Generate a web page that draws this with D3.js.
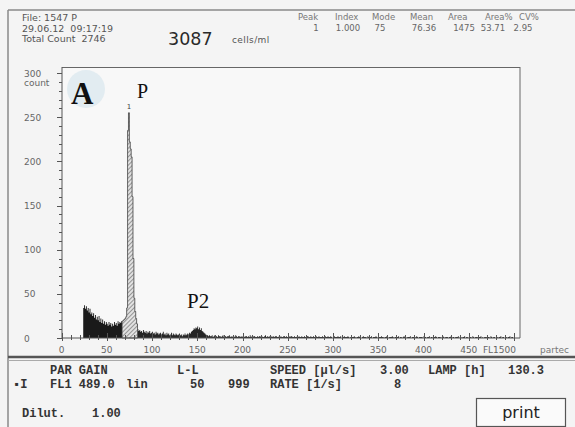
<!DOCTYPE html>
<html><head><meta charset="utf-8">
<script src="https://cdn.jsdelivr.net/npm/d3@7"></script>
<style>body{margin:0;background:#f4f4f4;} svg{display:block} text{white-space:pre}</style>
</head><body>
<svg id="c" width="575" height="427"></svg>
<script>
// ---------- DATA ----------
const startChannel = 24;
// channels 24-66 (debris, dark)
const lowCounts = [34,37,33,36,31,34,29,33,27,29,25,28,23,26,21,24,20,25,18,22,17,21,16,19,15,18,16,14,18,15,17,13,16,14,18,15,17,14,19,16,18,17,19];
// channels 67-83 (gated peak P, hatched)
const peakCounts = [19,20,21,22,24,34,235,255,222,214,205,160,90,45,30,22,16];
// channels 84-160 (incl. P2 bump)
const midCounts = [10,8,9,7,8,6,9,7,6,8,5,7,6,8,5,6,7,5,6,4,7,5,6,4,5,6,4,5,7,4,5,3,6,4,5,3,4,6,3,5,4,3,5,4,3,4,5,3,4,2,4,3,5,3,4,5,4,6,5,7,
  8,9,11,10,12,11,13,10,12,9,11,8,7,6,5,4,3];
// channels 161-499
const tailCounts = [
  3,2,3,2,2,3,1,2,3,2,2,1,3,2,2,1,2,3,1,2,2,1,2,2,3,1,2,1,2,2,1,3,2,1,2,2,1,2,1,2,
  2,1,2,2,1,2,1,3,1,2,1,2,2,1,1,2,1,2,2,1,2,1,1,2,3,1,2,1,2,1,1,2,1,2,1,2,2,1,1,2,
  1,2,1,1,2,2,1,2,1,1,2,1,2,2,1,1,2,1,1,2,1,2,1,1,2,1,1,2,1,1,2,2,1,1,2,1,1,2,1,1,
  2,1,1,2,1,1,1,2,1,0,2,1,1,2,1,1,2,1,0,1,2,1,1,1,2,1,1,2,0,1,1,2,1,1,1,2,1,0,1,2,
  1,1,2,1,0,1,1,2,1,1,0,1,2,1,1,1,0,2,1,1,1,2,0,1,1,1,2,1,0,1,1,1,2,1,1,0,1,1,2,1,
  0,1,1,1,2,1,0,1,1,1,1,2,0,1,1,0,1,2,1,1,0,1,1,1,2,0,1,1,1,0,1,2,1,0,1,1,1,1,0,2,
  1,1,0,1,1,2,0,1,1,0,1,1,2,1,0,1,1,1,0,1,2,1,0,1,1,1,0,1,1,2,0,1,1,0,1,1,1,2,0,1,
  1,0,1,1,2,0,1,1,0,1,1,1,0,2,1,0,1,1,1,0,1,1,2,0,1,0,1,1,1,0,1,1,0,2,1,0,1,1,0,1,
  1,0,1,1,2,0,1,1,0,1,1,0,1,1,2,0,1,1,0];
const yTicks = [0,50,100,150,200,250,300];
const xTicks = [0,50,100,150,200,250,300,350,400,450];
const peakHeader = ["Peak","Index","Mode","Mean","Area","Area%","CV%"];
const peakValues = ["1","1.000","75","76.36","1475","53.71","2.95"];
const fileInfo = ["File: 1547 P","29.06.12  09:17:19","Total Count  2746"];
const concentration = "3087";
const concUnit = "cells/ml";

// ---------- DRAW ----------
const svg = d3.select("#c");
svg.append("rect").attr("width",575).attr("height",427).attr("fill","#f4f4f4");

const x = d3.scaleLinear().domain([0,500]).range([61.5,514]);
const y = d3.scaleLinear().domain([0,300]).range([338,73]);

// frames
svg.append("line").attr("x1",8).attr("x2",575).attr("y1",10).attr("y2",10).attr("stroke","#8a8a8a").attr("stroke-width",1.5);
svg.append("line").attr("x1",8).attr("x2",8).attr("y1",10).attr("y2",427).attr("stroke","#8a8a8a").attr("stroke-width",1.5);
svg.append("line").attr("x1",8).attr("x2",575).attr("y1",357).attr("y2",357).attr("stroke","#555").attr("stroke-width",2.5);
svg.append("line").attr("x1",8).attr("x2",575).attr("y1",360.5).attr("y2",360.5).attr("stroke","#aaa").attr("stroke-width",1);

// plot area
svg.append("rect").attr("x",62).attr("y",67).attr("width",458).attr("height",271).attr("fill","#f8f8f8");
svg.append("circle").attr("cx",86).attr("cy",89).attr("r",19).attr("fill","#e2ecf1");
svg.append("line").attr("x1",62).attr("x2",520).attr("y1",67.5).attr("y2",67.5).attr("stroke","#666");
svg.append("line").attr("x1",520).attr("x2",520).attr("y1",67).attr("y2",338).attr("stroke","#666");

// header
const hdr = svg.append("g").attr("font-family","DejaVu Sans").attr("fill","#555");
fileInfo.forEach((t,i)=>hdr.append("text").attr("x",22).attr("y",21+i*10.5).attr("font-size",9.5).text(t));
svg.append("text").attr("x",168).attr("y",45).attr("font-family","DejaVu Sans").attr("font-size",17.5).attr("fill","#2a2a2a").text(concentration);
svg.append("text").attr("x",232).attr("y",43).attr("font-family","DejaVu Sans").attr("font-size",9).attr("fill","#555").attr("letter-spacing",0.4).text(concUnit);
const hx = [298,335,372,410,448,485,519];
const vx = [316,348,380,424,464,493,523];
peakHeader.forEach((t,i)=>hdr.append("text").attr("x",hx[i]).attr("y",20).attr("font-size",8.5).attr("fill","#777").text(t));
peakValues.forEach((t,i)=>hdr.append("text").attr("x",vx[i]).attr("y",31).attr("font-size",8.5).attr("text-anchor","middle").attr("fill","#666").text(t));

// hatch pattern
const defs = svg.append("defs");
const pat = defs.append("pattern").attr("id","hatch").attr("patternUnits","userSpaceOnUse").attr("width",3).attr("height",3).attr("patternTransform","rotate(45)");
pat.append("rect").attr("width",3).attr("height",3).attr("fill","#e2e2e2");
pat.append("line").attr("x1",0).attr("x2",0).attr("y1",0).attr("y2",3).attr("stroke","#555").attr("stroke-width",1.1);

// histogram data
function seg(arr, c0){ const pts = arr.map((v,i)=>({c:c0+i, v})); pts.push({c:c0+arr.length, v:arr[arr.length-1]}); return pts; }
const lowSeg = seg(lowCounts, startChannel);
const peakStart = startChannel + lowCounts.length;
const peakSeg = seg(peakCounts, peakStart);
const restStart = peakStart + peakCounts.length;
const restSeg = seg(midCounts.concat(tailCounts), restStart);

const area = d3.area().x(d=>x(d.c)).y0(y(0)).y1(d=>y(d.v)).curve(d3.curveStepAfter);
svg.append("path").datum(lowSeg).attr("d",area).attr("fill","#1a1a1a");
svg.append("path").datum(restSeg).attr("d",area).attr("fill","#262626");
svg.append("path").datum(peakSeg).attr("d",area).attr("fill","url(#hatch)").attr("stroke","#444").attr("stroke-width",0.8);

// peak marker
const modeIdx = peakCounts.indexOf(d3.max(peakCounts));
svg.append("text").attr("x",x(peakStart+modeIdx)+0.5).attr("y",y(d3.max(peakCounts))-4).attr("font-family","DejaVu Sans").attr("font-size",7).attr("fill","#444").attr("text-anchor","middle").text("1");

// axes
svg.append("line").attr("x1",62).attr("x2",62).attr("y1",67).attr("y2",338).attr("stroke","#555");
svg.append("line").attr("x1",62).attr("x2",520).attr("y1",338).attr("y2",338).attr("stroke","#555");
const yMinor = d3.range(0,301,10);
svg.append("g").selectAll("line").data(yMinor).join("line")
  .attr("x1",d=>d%50===0?57:59).attr("x2",62).attr("y1",d=>Math.round(y(d))+0.5).attr("y2",d=>Math.round(y(d))+0.5).attr("stroke","#555");
const xMinor = d3.range(0,501,10);
svg.append("g").selectAll("line").data(xMinor).join("line")
  .attr("x1",d=>Math.round(x(d))+0.5).attr("x2",d=>Math.round(x(d))+0.5).attr("y1",d=>d%50===0?333:335).attr("y2",d=>d%50===0?341:340).attr("stroke","#555");

const lab = svg.append("g").attr("font-family","DejaVu Sans").attr("font-size",9).attr("fill","#666");
yTicks.forEach(t=>lab.append("text").attr("x",24).attr("y",y(t)+3.5).text(t));
lab.append("text").attr("x",24).attr("y",86).text("count");
xTicks.forEach(t=>lab.append("text").attr("x",x(t)).attr("y",353).attr("text-anchor","middle").text(t));
lab.append("text").attr("x",x(500)+2).attr("y",353).attr("text-anchor","end").text("FL1500");
lab.append("text").attr("x",540).attr("y",353).attr("font-size",9).attr("fill","#777").text("partec");

// annotations
svg.append("text").attr("x",71).attr("y",104).attr("font-family","Liberation Serif").attr("font-weight","bold").attr("font-size",31).attr("fill","#111").text("A");
svg.append("text").attr("x",137).attr("y",98).attr("font-family","Liberation Serif").attr("font-size",20).attr("fill","#111").text("P");
svg.append("text").attr("x",187).attr("y",308).attr("font-family","Liberation Serif").attr("font-size",21).attr("fill","#111").text("P2");

// bottom panel
const rows = [
  [[50,374,"PAR GAIN"],[177,374,"L-L"],[270,374,"SPEED [µl/s]"],[380,374,"3.00"],[428,374,"LAMP [h]"],[508,374,"130.3"]],
  [[13,388,"\u25AAI"],[50,388,"FL1 489.0"],[126,388,"lin"],[190,388,"50"],[228,388,"999"],[270,388,"RATE"],[306,388,"[1/s]"],[394,388,"8"]],
  [[22,417,"Dilut."],[92,417,"1.00"]]
];
const bp = svg.append("g").attr("font-family","Liberation Mono").attr("font-weight","bold").attr("font-size",12).attr("fill","#333");
rows.flat().forEach(([tx,ty,t])=>bp.append("text").attr("x",tx).attr("y",ty).text(t));
svg.append("rect").attr("x",476.5).attr("y",398.5).attr("width",89).attr("height",28).attr("fill","#fafafa").attr("stroke","#555").attr("stroke-width",1.2);
svg.append("text").attr("x",521).attr("y",418).attr("text-anchor","middle").attr("font-family","DejaVu Sans").attr("font-size",16).attr("fill","#222").text("print");
</script>
</body></html>
